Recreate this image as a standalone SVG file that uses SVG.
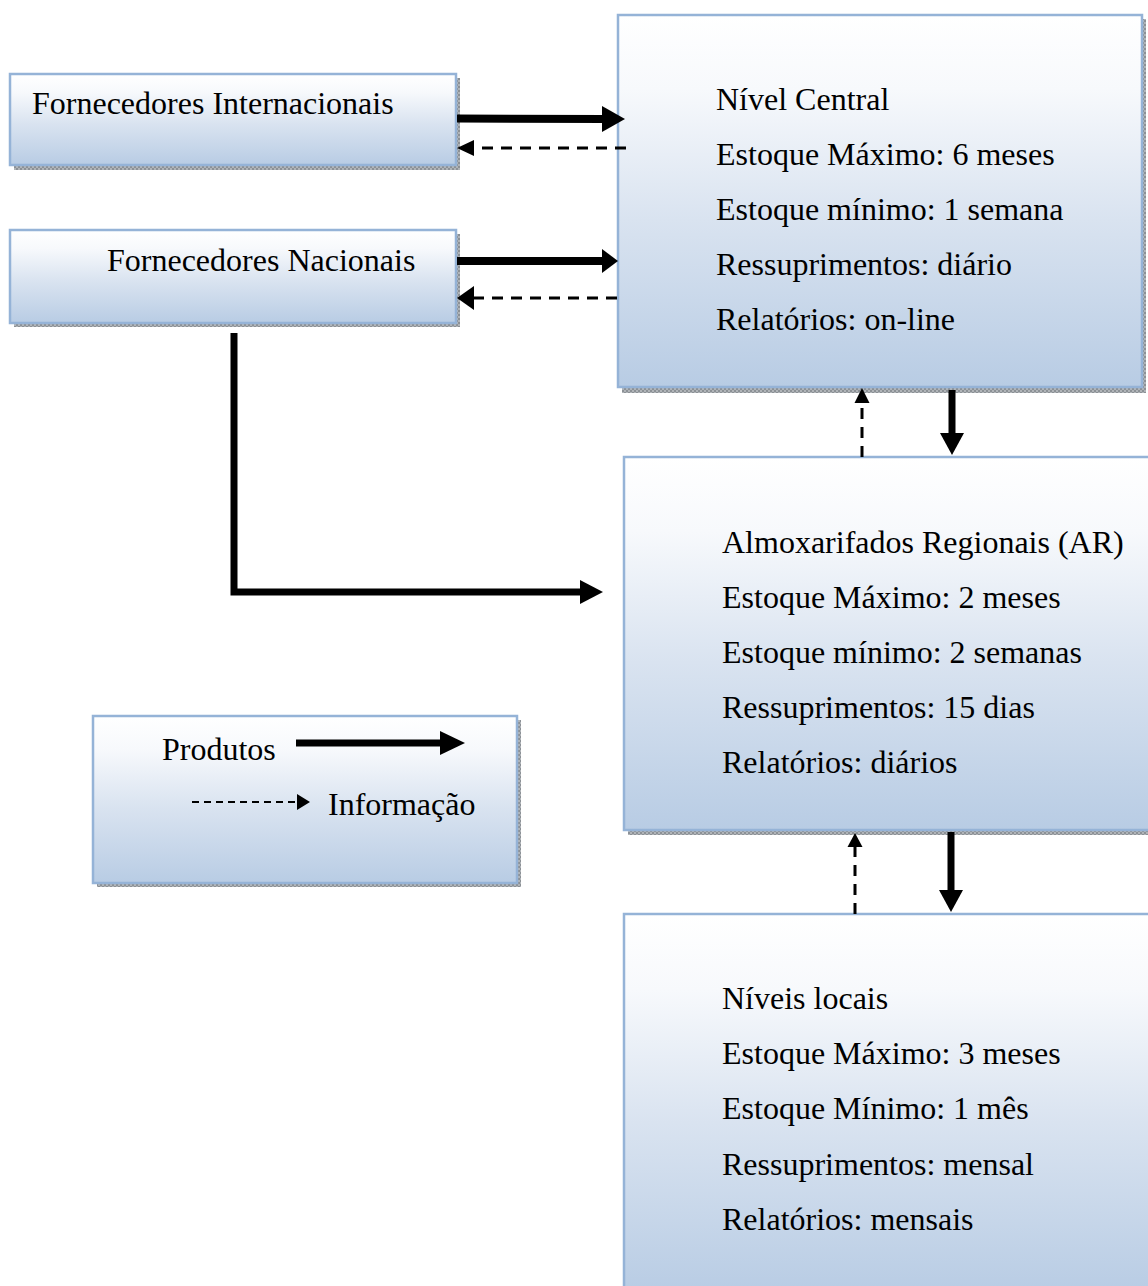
<svg xmlns="http://www.w3.org/2000/svg" width="1148" height="1286" viewBox="0 0 1148 1286">
<style>
  .box { fill: url(#boxGrad); stroke: #95b3d7; stroke-width: 2.5; }
  .shadow { fill: url(#shadowPat); }
  .lbl { font-family: "Liberation Serif", "Times New Roman", serif; font-size: 32px; fill: #000; }
  .prod { stroke: #000; stroke-width: 8; fill: none; }
  .info { stroke: #000; stroke-width: 3; stroke-dasharray: 11 8; fill: none; }
  .head { fill: #000; }
</style>
<defs>
  <linearGradient id="boxGrad" x1="0" y1="0" x2="0" y2="1">
    <stop offset="0" stop-color="#ffffff"/>
    <stop offset="0.2" stop-color="#f7f9fc"/>
    <stop offset="0.55" stop-color="#d9e3f0"/>
    <stop offset="1" stop-color="#b8cce4"/>
  </linearGradient>
  <pattern id="shadowPat" width="4" height="4" patternUnits="userSpaceOnUse">
    <rect width="4" height="4" fill="#b0b4b8"/>
    <rect width="2" height="2" fill="#8c9196"/>
    <rect x="2" y="2" width="2" height="2" fill="#8c9196"/>
  </pattern>
</defs>

<g id="fornecedores-internacionais">
  <rect class="shadow" x="14" y="78" width="446" height="92"/>
  <rect class="box" x="10" y="74" width="446" height="91"/>
  <text class="lbl" x="32" y="114">Fornecedores Internacionais</text>
</g>

<g id="fornecedores-nacionais">
  <rect class="shadow" x="14" y="234" width="446" height="93"/>
  <rect class="box" x="10" y="230" width="446" height="93"/>
  <text class="lbl" x="107" y="271">Fornecedores Nacionais</text>
</g>

<g id="nivel-central">
  <rect class="shadow" x="622" y="19" width="524" height="374"/>
  <rect class="box" x="618" y="15" width="524" height="372"/>
  <text class="lbl" x="716" y="110">Nível Central</text>
  <text class="lbl" x="716" y="165">Estoque Máximo: 6 meses</text>
  <text class="lbl" x="716" y="220">Estoque mínimo: 1 semana</text>
  <text class="lbl" x="716" y="275">Ressuprimentos: diário</text>
  <text class="lbl" x="716" y="330">Relatórios: on-line</text>
</g>

<g id="almoxarifados-regionais">
  <rect class="shadow" x="628" y="461" width="530" height="374"/>
  <rect class="box" x="624" y="457" width="530" height="373"/>
  <text class="lbl" x="722" y="553">Almoxarifados Regionais (AR)</text>
  <text class="lbl" x="722" y="608">Estoque Máximo: 2 meses</text>
  <text class="lbl" x="722" y="663">Estoque mínimo: 2 semanas</text>
  <text class="lbl" x="722" y="718">Ressuprimentos: 15 dias</text>
  <text class="lbl" x="722" y="773">Relatórios: diários</text>
</g>

<g id="niveis-locais">
  <rect class="box" x="624" y="914" width="530" height="380"/>
  <text class="lbl" x="722" y="1009">Níveis locais</text>
  <text class="lbl" x="722" y="1064">Estoque Máximo: 3 meses</text>
  <text class="lbl" x="722" y="1119">Estoque Mínimo: 1 mês</text>
  <text class="lbl" x="722" y="1175">Ressuprimentos: mensal</text>
  <text class="lbl" x="722" y="1230">Relatórios: mensais</text>
</g>

<g id="legenda">
  <rect class="shadow" x="97" y="720" width="424" height="167"/>
  <rect class="box" x="93" y="716" width="424" height="167"/>
  <text class="lbl" x="162" y="760">Produtos</text>
  <line x1="296" y1="743" x2="442" y2="743" stroke="#000" stroke-width="7"/>
  <polygon class="head" points="440,731 465,743 440,755"/>
  <line x1="192" y1="802" x2="298" y2="802" stroke="#000" stroke-width="2" stroke-dasharray="7 5"/>
  <polygon class="head" points="297,794 310,802 297,810"/>
  <text class="lbl" x="328" y="815">Informação</text>
</g>

<g id="connectors">
  <line class="prod" x1="457" y1="118.5" x2="604" y2="119"/>
  <polygon class="head" points="602,106 625,119 602,132"/>
  <line class="info" x1="626" y1="148" x2="472" y2="148"/>
  <polygon class="head" points="474,140 457,148 474,156"/>

  <line class="prod" x1="457" y1="261" x2="604" y2="261"/>
  <polygon class="head" points="602,249 618,261 602,273"/>
  <line class="info" x1="617" y1="298" x2="472" y2="298"/>
  <polygon class="head" points="474,286 457,298 474,310"/>

  <path d="M234,333 V592 H582" stroke="#000" stroke-width="7" fill="none" stroke-linejoin="miter"/>
  <polygon class="head" points="580,580 603,592 580,604"/>

  <line x1="952" y1="390" x2="952" y2="435" stroke="#000" stroke-width="7"/>
  <polygon class="head" points="940,433 952,455 964,433"/>
  <line class="info" x1="862" y1="457" x2="862" y2="401"/>
  <polygon class="head" points="854.5,403 862,388 869.5,403"/>

  <line x1="951" y1="832" x2="951" y2="892" stroke="#000" stroke-width="7"/>
  <polygon class="head" points="939,890 951,912 963,890"/>
  <line class="info" x1="855" y1="914" x2="855" y2="845"/>
  <polygon class="head" points="847.5,847 855,833 862.5,847"/>
</g>
</svg>
